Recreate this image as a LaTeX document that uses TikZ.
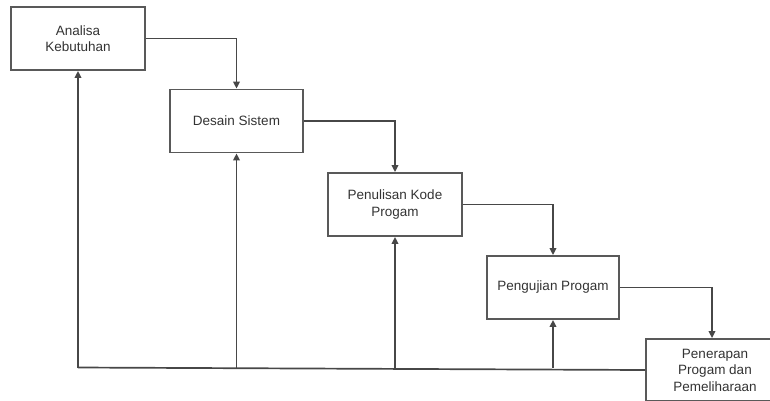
\documentclass[tikz,border=0pt]{standalone}
\usepackage{fontspec}
\setmainfont{Liberation Sans}
\usetikzlibrary{arrows.meta}
\begin{document}
\begin{tikzpicture}[x=1pt,y=-1pt,
  stage/.style={draw=black!65, line width=1.8pt, rectangle, align=center, inner sep=0pt,
    font=\fontsize{13.5}{16.5}\selectfont, text=black!80},
  flow/.style={draw=black!72, line width=1.7pt, -{Triangle[length=7pt,width=6.5pt]}},
  plain/.style={draw=black!72, line width=1.7pt}]
\useasboundingbox (0,0) rectangle (770,400);
\clip (0,0) rectangle (770,400);
\node[stage, minimum width=134pt, minimum height=63pt] (a) at (78,38.5) {Analisa\\Kebutuhan};
\node[stage, minimum width=133pt, minimum height=63pt] (b) at (236.5,121) {Desain Sistem};
\node[stage, minimum width=134pt, minimum height=63pt] (c) at (395,204.5) {Penulisan Kode\\Progam};
\node[stage, minimum width=132pt, minimum height=63pt] (d) at (553,287.5) {Pengujian Progam};
\node[stage, minimum width=138pt, minimum height=62pt] (e) at (715,370) {Penerapan\\Progam dan\\Pemeliharaan};
\draw[flow] (a.east) -| (b.north);
\draw[flow] (b.east) -| (c.north);
\draw[flow] (c.east) -| (d.north);
\draw[flow] (d.east) -| ([xshift=-3pt]e.north);
\coordinate (f1) at (a.south |- 0,367.5);
\coordinate (f2) at (b.south |- 0,367.5);
\coordinate (f3) at (c.south |- 0,367.5);
\coordinate (f4) at (d.south |- 0,367.5);
\draw[plain] (e.west) -- (f1);
\draw[flow] (f1) -- (a.south);
\draw[flow] (f2) -- (b.south);
\draw[flow] (f3) -- (c.south);
\draw[flow] (f4) -- (d.south);
\end{tikzpicture}
\end{document}
